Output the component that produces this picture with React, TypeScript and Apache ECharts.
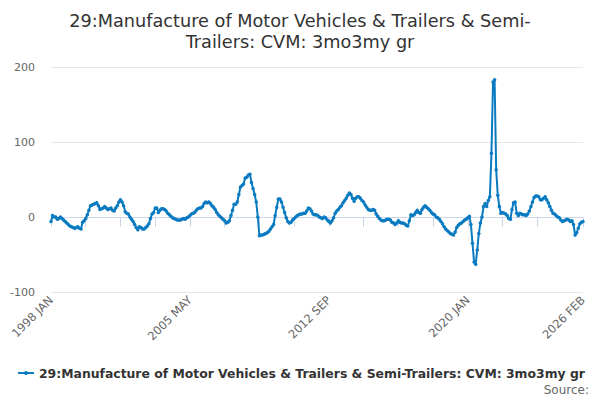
import React, { useEffect, useRef } from "react";
import * as echarts from "echarts";

const TITLE = "29:Manufacture of Motor Vehicles & Trailers & Semi-\nTrailers: CVM: 3mo3my gr";
const SERIES_NAME = "29:Manufacture of Motor Vehicles & Trailers & Semi-Trailers: CVM: 3mo3my gr";
const START_YEAR = 1998;
const MONTH_NAMES = ["JAN", "FEB", "MAR", "APR", "MAY", "JUN", "JUL", "AUG", "SEP", "OCT", "NOV", "DEC"];
const POINT_COUNT = 338; // 1998 JAN .. 2026 FEB

// 1998 - 2004
const values1998to2004 = [
  -6, 2, 0, 0, -3, -2, 0, -2, -4, -6, -8, -10,
  -12, -13, -14, -15, -14, -13, -15, -16, -7, -5, -2, 3,
  9, 15, 16, 17, 18, 19, 15, 10, 11, 12, 14, 12,
  10, 11, 12, 9, 8, 12, 15, 20, 23, 20, 15, 7,
  5, 4, 0, -3, -6, -10, -14, -17, -13, -14, -16, -16,
  -14, -12, -9, -2, 4, 6, 12, 12, 6, 9, 11, 11,
  10, 8, 5, 3, 1, -1, -2, -3, -4, -4, -4, -3,
];
// 2005 - 2011
const values2005to2011 = [
  -2, -3, -1, 0, 2, 4, 5, 6, 9, 11, 12, 12,
  14, 18, 20, 19, 20, 18, 15, 13, 10, 6, 3, 1,
  -1, -3, -5, -8, -7, -5, 2, 9, 17, 17, 20, 30,
  40, 42, 44, 52, 53, 56, 57, 46, 38, 30, 20, 0,
  -25, -24, -24, -23, -22, -21, -19, -16, -13, -10, 2, 13,
  24, 24, 20, 13, 6, -1, -6, -8, -7, -4, -2, 0,
  2, 3, 4, 4, 5, 5, 8, 12, 11, 8, 4, 3,
];
// 2012 - 2018
const values2012to2018 = [
  3, 2, 0, -1, -2, 0, -1, -4, -6, -8, -5, -1,
  5, 8, 10, 13, 15, 19, 22, 25, 29, 32, 30, 25,
  21, 25, 27, 27, 25, 22, 20, 16, 13, 10, 9, 9,
  10, 9, 4, 1, -2, -4, -5, -5, -4, -3, -3, -4,
  -7, -8, -10, -8, -5, -7, -8, -8, -9, -11, -12, -5,
  3, 2, 3, 6, 9, 6, 5, 10, 13, 15, 13, 11,
  9, 6, 4, 3, 0, -1, -3, -6, -9, -13, -16, -18,
];
// 2019 - 2026 FEB
const values2019to2026 = [
  -20, -22, -23, -24, -20, -14, -11, -9, -8, -6, -4, -3,
  -1, 1, -10, -35, -60, -63, -44, -22, -8, 0, 14, 18,
  14, 22, 27, 85, 180, 183, 63, 29, 14, 5, 6, 5,
  4, 2, -2, -3, 10, 19, 20, 5, 2, 5, 4, 3,
  3, 2, 4, 8, 14, 20, 26, 28, 28, 27, 23, 23,
  25, 27, 23, 19, 14, 9, 5, 4, 2, 0, -1, -4,
  -6, -5, -4, -3, -4, -6, -5, -10, -24, -21, -15, -9,
  -7, -6,
];

const Y_MIN = -100;
const Y_MAX = 200;
const Y_INTERVAL = 100;
const TICK_EVERY = 22;
const LABEL_EVERY = 88;
const LAST_MINOR_TICK = 308;

const seriesValues = [...values1998to2004, ...values2005to2011, ...values2012to2018, ...values2019to2026];
const categories: string[] = [];
for (let i = 0; i < POINT_COUNT; i++) {
  const y = START_YEAR + Math.floor(i / 12);
  categories.push(`${y} ${MONTH_NAMES[i % 12]}`);
}

const FONT = "DejaVu Sans";
const BLUE = "#0a7bc1";

export default function App() {
  const ref = useRef<HTMLDivElement>(null);
  useEffect(() => {
    if (!ref.current) return;
    const chart = echarts.init(ref.current, undefined, { renderer: "svg" });
    const last = categories.length - 1;
    chart.setOption({
      animation: false,
      backgroundColor: "#ffffff",
      textStyle: { fontFamily: FONT },
      title: {
        text: TITLE,
        left: "center",
        top: 5,
        textStyle: { fontFamily: FONT, fontSize: 17.7, fontWeight: "normal", color: "#333333", lineHeight: 21.5 },
      },
      grid: { left: 51, right: 17, top: 67, bottom: 108, containLabel: false },
      legend: {
        left: 12,
        top: 362,
        itemWidth: 16,
        itemHeight: 5,
        itemGap: 4,
        textStyle: { fontFamily: FONT, fontSize: 12.4, fontWeight: "bold", color: "#333333" },
        data: [SERIES_NAME],
      },
      graphic: [
        {
          type: "text",
          right: 11,
          top: 384,
          style: { text: "Source:", fontFamily: FONT, fontSize: 12, fill: "#666666" },
        },
      ],
      xAxis: {
        type: "category",
        data: categories,
        boundaryGap: false,
        axisLine: { show: true, lineStyle: { color: "#ccd6eb", width: 1 } },
        axisTick: {
          show: true,
          length: 10,
          lineStyle: { color: "#ccd6eb" },
          interval: (i: number) => (i % TICK_EVERY === 0 && i <= LAST_MINOR_TICK) || i === last,
        },
        axisLabel: {
          interval: (i: number) => i % LABEL_EVERY === 0 || i === last,
          rotate: 45,
          fontFamily: FONT,
          fontSize: 11.5,
          color: "#666666",
          margin: 6,
        },
        splitLine: { show: false },
      },
      yAxis: {
        type: "value",
        min: Y_MIN,
        max: Y_MAX,
        interval: Y_INTERVAL,
        axisLine: { show: false },
        axisTick: { show: false },
        axisLabel: { fontFamily: FONT, fontSize: 11, color: "#666666", margin: 16 },
        splitLine: { lineStyle: { color: "#e6e6e6", width: 1 } },
      },
      series: [
        {
          name: SERIES_NAME,
          type: "line",
          data: seriesValues,
          color: BLUE,
          lineStyle: { width: 2, color: BLUE },
          symbol: "circle",
          symbolSize: 3.5,
          showSymbol: true,
          showAllSymbol: true,
          itemStyle: { color: BLUE },
        },
      ],
    });
    return () => chart.dispose();
  }, []);
  return (
    <div
      ref={ref}
      style={{ position: "fixed", left: 0, top: 0, width: 600, height: 400 }}
    />
  );
}
